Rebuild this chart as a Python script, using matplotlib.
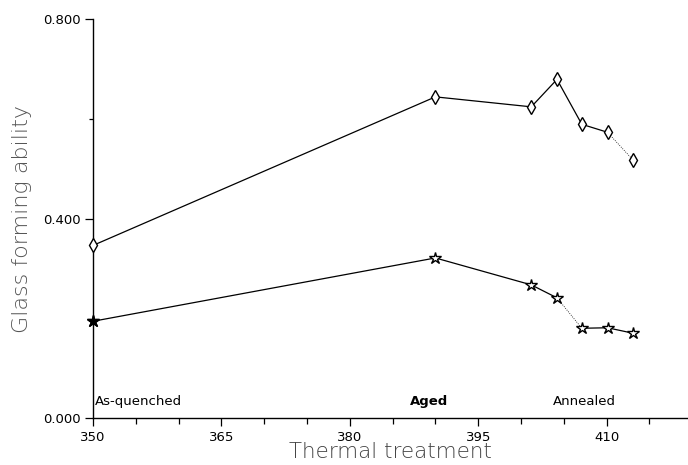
import numpy as np
import matplotlib.pyplot as plt

# thermal treatment temperature (x) and glass forming ability (y)
temp = [350, 390, 401.2, 404.2, 407.1, 410.1, 413.1]
gfa_upper = [0.346, 0.644, 0.624, 0.679, 0.589, 0.573, 0.517]
gfa_lower = [0.194, 0.321, 0.267, 0.241, 0.180, 0.181, 0.170]

# segment index drawn dotted for each series
dotted_upper = 5
dotted_lower = 3

xticks_major = [350, 365, 380, 395, 410]
yticks_major = [0.0, 0.4, 0.8]
stage_labels = ['As-quenched', 'Aged', 'Annealed']
stage_x = [350.2, 389.3, 403.7]


def draw_series(ax, x, y, dotted, marker, ms):
  # solid segments, one dotted segment
  for i in range(len(x) - 1):
    ls = ':' if i == dotted else '-'
    lw = 0.6 if i == dotted else 0.9
    ax.plot(x[i:i+2], y[i:i+2], color='k', ls=ls, lw=lw, zorder=2)
  ax.plot(x, y, ls='none', marker=marker, ms=ms, mfc='white', mec='k', mew=1.0, zorder=3, clip_on=False)


fig = plt.figure(figsize=(6.88, 4.65), dpi=100)
ax = fig.add_axes([0.135, 0.101, 0.865, 0.858])

draw_series(ax, temp, gfa_upper, dotted_upper, 'd', 7)
draw_series(ax, temp, gfa_lower, dotted_lower, '*', 9)
# first star looks filled
ax.plot(temp[0], gfa_lower[0], ls='none', marker='*', ms=9, color='k', zorder=4, clip_on=False)

ax.set_xlim(350, 419.5)
ax.set_ylim(0, 0.8)
ax.set_xticks(xticks_major)
ax.set_xticklabels([str(v) for v in xticks_major])
ax.set_xticks(np.arange(355, 420, 5), minor=True)
ax.set_yticks(yticks_major)
ax.set_yticklabels(['%.3f' % v for v in yticks_major])
ax.set_yticks([0.6], minor=True)

ax.spines['top'].set_visible(False)
ax.spines['right'].set_visible(False)
ax.spines['left'].set_linewidth(1.0)
ax.spines['bottom'].set_linewidth(1.0)
ax.tick_params(axis='both', which='major', direction='out', length=6, width=0.9, labelsize=9.5, pad=3)
ax.tick_params(axis='both', which='minor', direction='out', length=3, width=0.9)
ax.tick_params(axis='x', which='minor', length=4)

for lab, xx in zip(stage_labels, stage_x):
  fw = 'bold' if lab == 'Aged' else 'normal'
  ha = 'center' if lab == 'Aged' else 'left'
  ax.text(xx, 0.034, lab, fontsize=9.5, fontweight=fw, ha=ha, va='center')

ax.set_xlabel('Thermal treatment', fontsize=15.5, color='#444444', labelpad=-1, fontweight='light')
ax.set_ylabel('Glass forming ability', fontsize=16, color='#555555', labelpad=8, fontweight='light')

fig.savefig('out.png', dpi=100)
